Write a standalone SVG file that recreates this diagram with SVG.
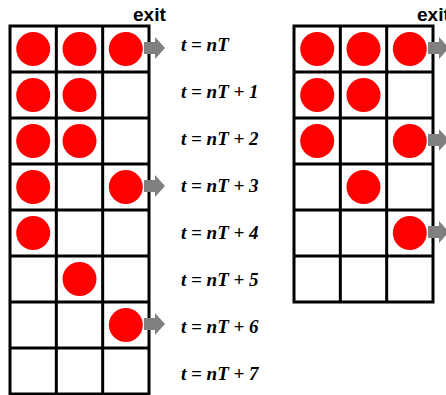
<svg xmlns="http://www.w3.org/2000/svg" width="446" height="395" viewBox="0 0 446 395">
<defs>
<style>
.grid{fill:none;stroke:#000;stroke-width:3}
.ball{fill:#ff0000}
.arr{fill:#808080}
.exit{font-family:"Liberation Sans",Arial,sans-serif;font-weight:bold;font-size:19px;fill:#000}
.lbl{font-family:"Liberation Serif","Times New Roman",serif;font-weight:bold;font-style:italic;font-size:19px;fill:#000}
</style>
<path id="arrow" d="M0,-6 H11 V-11 L21,0 L11,11 V6 H0 Z"/>
</defs>
<rect width="446" height="395" fill="#fff"/>
<g id="left-grid">
<g class="grid">
<rect x="10" y="26" width="139" height="368"/>
<path d="M56.33,26V394M102.67,26V394M10,72H149M10,118H149M10,164H149M10,210H149M10,256H149M10,302H149M10,348H149"/>
</g>
<g class="ball">
<circle cx="33.2" cy="49" r="17"/><circle cx="79.5" cy="49" r="17"/><circle cx="125.8" cy="49" r="17"/>
<circle cx="33.2" cy="95" r="17"/><circle cx="79.5" cy="95" r="17"/>
<circle cx="33.2" cy="141" r="17"/><circle cx="79.5" cy="141" r="17"/>
<circle cx="33.2" cy="187" r="17"/><circle cx="125.8" cy="187" r="17"/>
<circle cx="33.2" cy="233" r="17"/>
<circle cx="79.5" cy="279" r="17"/>
<circle cx="125.8" cy="325" r="17"/>
</g>
<text class="exit" x="133" y="21">exit</text>
</g>
<g id="right-grid">
<g class="grid">
<rect x="294" y="26" width="139" height="276"/>
<path d="M340.33,26V302M386.67,26V302M294,72H433M294,118H433M294,164H433M294,210H433M294,256H433"/>
</g>
<g class="ball">
<circle cx="317.2" cy="49" r="17"/><circle cx="363.5" cy="49" r="17"/><circle cx="409.8" cy="49" r="17"/>
<circle cx="317.2" cy="95" r="17"/><circle cx="363.5" cy="95" r="17"/>
<circle cx="317.2" cy="141" r="17"/><circle cx="409.8" cy="141" r="17"/>
<circle cx="363.5" cy="187" r="17"/>
<circle cx="409.8" cy="233" r="17"/>
</g>
<text class="exit" x="417" y="21">exit</text>
</g>
<g id="connectors" class="arr">
<use href="#arrow" x="144" y="48"/>
<use href="#arrow" x="144" y="186"/>
<use href="#arrow" x="144" y="324"/>
<use href="#arrow" x="428" y="48"/>
<use href="#arrow" x="428" y="140"/>
<use href="#arrow" x="428" y="232"/>
</g>
<g id="labels" class="lbl">
<text x="181" y="51">t = nT</text>
<text x="181" y="98">t = nT + 1</text>
<text x="181" y="145">t = nT + 2</text>
<text x="181" y="192">t = nT + 3</text>
<text x="181" y="239">t = nT + 4</text>
<text x="181" y="286">t = nT + 5</text>
<text x="181" y="333">t = nT + 6</text>
<text x="181" y="380">t = nT + 7</text>
</g>
</svg>
